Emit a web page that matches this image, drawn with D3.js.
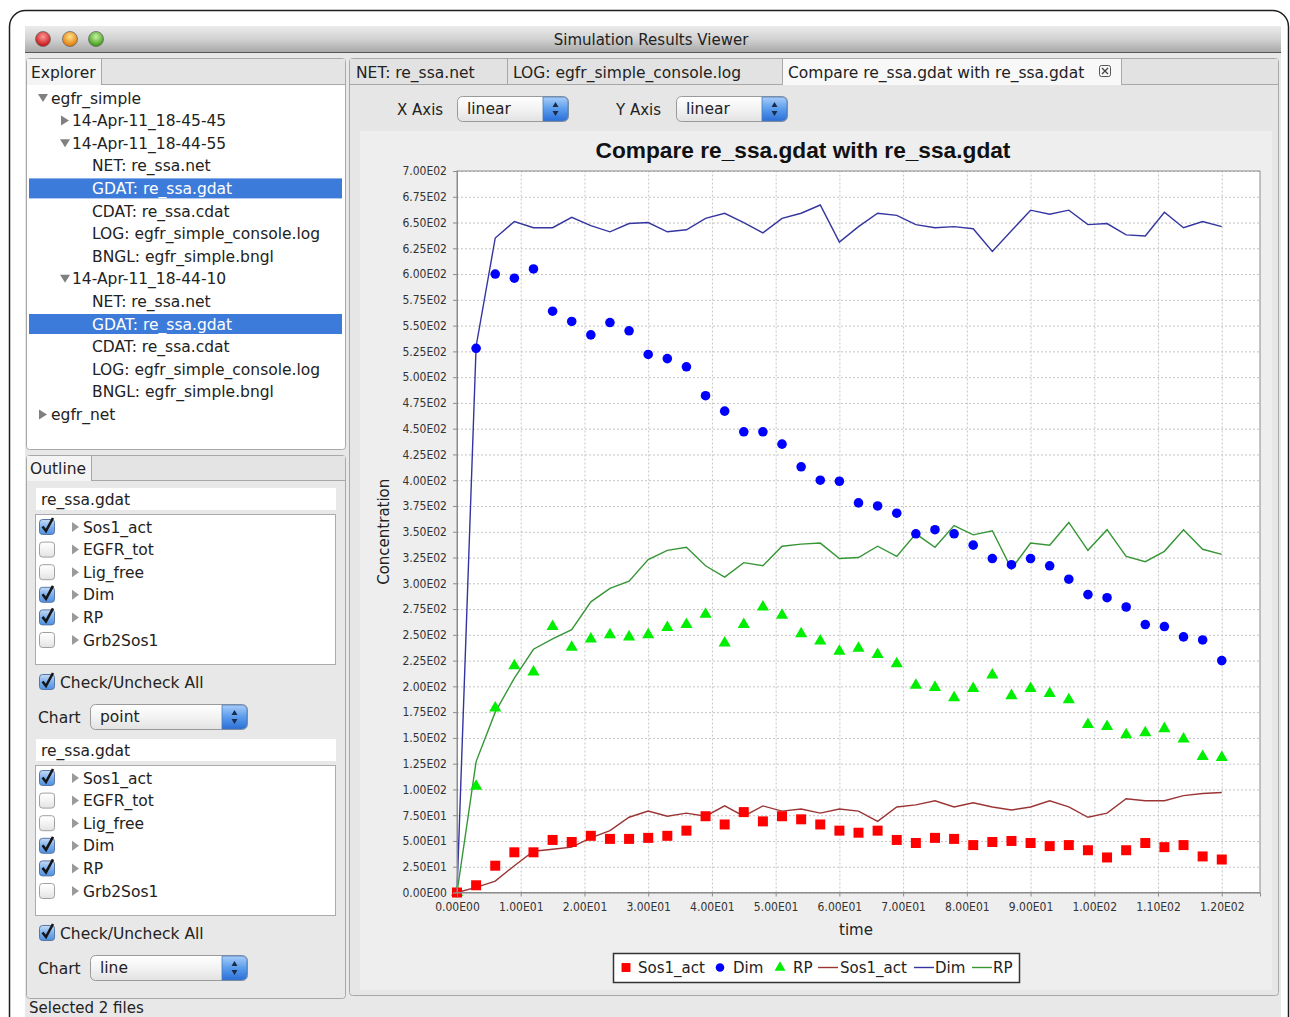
<!DOCTYPE html>
<html>
<head>
<meta charset="UTF-8">
<title>Simulation Results Viewer</title>
<script src="https://d3js.org/d3.v7.min.js"></script>
<style>
  body { margin: 0; background: #fff; }
  svg { display: block; font-family: "DejaVu Sans", sans-serif; }
  .tick-label { font-family: "DejaVu Sans Condensed", "DejaVu Sans", sans-serif; font-size: 12px; fill: #333; }
</style>
</head>
<body>
<div id="app"></div>
<script>
// ---- chart data ----
const time = [0, 3, 6, 9, 12, 15, 18, 21, 24, 27, 30, 33, 36, 39, 42, 45, 48, 51, 54, 57, 60,
              63, 66, 69, 72, 75, 78, 81, 84, 87, 90, 93, 96, 99, 102, 105, 108, 111, 114, 117, 120];

// first file, drawn as points
const sosPoint = [0, 7, 26, 39, 39, 51, 49, 55, 52, 52, 53, 55, 60, 74, 66, 78, 69, 74, 71, 66, 60,
                  58, 60, 51, 48, 53, 52, 46, 49, 50, 48, 45, 46, 41, 34, 41, 48, 44, 46, 35, 32];
const dimPoint = [0, 528, 600, 596, 605, 564, 554, 541, 553, 545, 522, 518, 510, 482, 467, 447, 447, 435, 413, 400, 399,
                  378, 375, 368, 348, 352, 348, 337, 324, 318, 324, 317, 304, 289, 286, 277, 260, 258, 248, 245, 225];
const rpPoint  = [0, 103, 179, 220, 214, 258, 238, 246, 250, 248, 250, 257, 260, 270, 242, 260, 277, 269, 251, 244, 234,
                  237, 231, 222, 201, 199, 189, 198, 211, 191, 198, 193, 187, 163, 161, 153, 155, 159, 149, 132, 131];

// second file, drawn as lines
const sosLine = [0, 5, 11, 26, 40, 42, 44, 53, 60, 73, 79, 74, 77, 74, 84, 74, 84, 79, 81, 77, 81,
                 79, 69, 83, 85, 89, 83, 87, 83, 80, 83, 89, 83, 73, 77, 91, 89, 89, 94, 96, 97];
const dimLine = [0, 530, 635, 651, 645, 645, 655, 647, 641, 649, 650, 641, 643, 654, 659, 650, 640, 654, 659, 667, 631,
                 646, 659, 657, 648, 645, 646, 644, 622, 642, 662, 658, 662, 648, 649, 638, 637, 660, 645, 651, 646];
const rpLine  = [0, 127, 175, 208, 236, 246, 255, 282, 295, 302, 323, 332, 335, 317, 306, 320, 317, 336, 338, 339, 324,
                 325, 336, 326, 348, 335, 356, 347, 351, 314, 339, 337, 359, 332, 352, 326, 321, 331, 352, 333, 328];

const xTicks = [0, 10, 20, 30, 40, 50, 60, 70, 80, 90, 100, 110, 120];
const yTicks = [0, 25, 50, 75, 100, 125, 150, 175, 200, 225, 250, 275, 300, 325, 350,
                375, 400, 425, 450, 475, 500, 525, 550, 575, 600, 625, 650, 675, 700];

// ---- UI texts ----
const treeItems = [
  {text: 'egfr_simple', level: 0, arrow: 'down'},
  {text: '14-Apr-11_18-45-45', level: 1, arrow: 'right'},
  {text: '14-Apr-11_18-44-55', level: 1, arrow: 'down'},
  {text: 'NET: re_ssa.net', level: 2},
  {text: 'GDAT: re_ssa.gdat', level: 2, selected: true},
  {text: 'CDAT: re_ssa.cdat', level: 2},
  {text: 'LOG: egfr_simple_console.log', level: 2},
  {text: 'BNGL: egfr_simple.bngl', level: 2},
  {text: '14-Apr-11_18-44-10', level: 1, arrow: 'down'},
  {text: 'NET: re_ssa.net', level: 2},
  {text: 'GDAT: re_ssa.gdat', level: 2, selected: true},
  {text: 'CDAT: re_ssa.cdat', level: 2},
  {text: 'LOG: egfr_simple_console.log', level: 2},
  {text: 'BNGL: egfr_simple.bngl', level: 2},
  {text: 'egfr_net', level: 0, arrow: 'right'}
];
const observables = ['Sos1_act', 'EGFR_tot', 'Lig_free', 'Dim', 'RP', 'Grb2Sos1'];
const observed = [true, false, false, true, true, false];
const chartTypes = ['point', 'line'];
const tabs = ['NET: re_ssa.net', 'LOG: egfr_simple_console.log', 'Compare re_ssa.gdat with re_ssa.gdat'];

const UI = '#222';
const svg = d3.select('#app').append('svg').attr('width', 1290).attr('height', 1017);
const defs = svg.append('defs');

function linGrad(id, stops) {
  const g = defs.append('linearGradient').attr('id', id).attr('x1', 0).attr('y1', 0).attr('x2', 0).attr('y2', 1);
  stops.forEach((c, i) => g.append('stop').attr('offset', i / (stops.length - 1)).attr('stop-color', c));
}
linGrad('gTitle', ['#ebebeb', '#d2d2d2', '#a8a8a8']);
linGrad('gCheck', ['#c6dcf6', '#7fb0ec', '#4f8fe0']);
linGrad('gCombo', ['#ffffff', '#f3f3f3', '#e2e2e2']);
linGrad('gStep', ['#a9cdf8', '#5a9cec', '#2b6fd8']);
function radGrad(id, light, dark) {
  const g = defs.append('radialGradient').attr('id', id).attr('cx', 0.5).attr('cy', 0.35).attr('r', 0.6);
  g.append('stop').attr('offset', 0).attr('stop-color', light);
  g.append('stop').attr('offset', 1).attr('stop-color', dark);
}
radGrad('gRed', '#ff9a9a', '#c81616');
radGrad('gYel', '#ffe28a', '#e07c0c');
radGrad('gGrn', '#c8f2a0', '#3f9c18');

// ---- window frame ----
svg.append('rect').attr('x', 9.5).attr('y', 10.5).attr('width', 1279).attr('height', 1050).attr('rx', 16)
  .attr('fill', '#fff').attr('stroke', '#1e1e1e').attr('stroke-width', 1.5);
svg.append('rect').attr('x', 25).attr('y', 26).attr('width', 1256).attr('height', 1000).attr('fill', '#e8e8e8');
svg.append('rect').attr('x', 25).attr('y', 26).attr('width', 1256).attr('height', 26).attr('fill', 'url(#gTitle)');
svg.append('line').attr('x1', 25).attr('x2', 1281).attr('y1', 52.5).attr('y2', 52.5).attr('stroke', '#555');
[['gRed', 43], ['gYel', 70], ['gGrn', 96]].forEach(([g, cx]) => {
  svg.append('circle').attr('cx', cx).attr('cy', 39).attr('r', 7.5).attr('fill', `url(#${g})`)
    .attr('stroke', '#6a6a6a').attr('stroke-width', 0.8);
});
svg.append('text').attr('x', 651).attr('y', 44.5).attr('text-anchor', 'middle')
  .style('font-size', '15px').attr('fill', UI).text('Simulation Results Viewer');

// ---- explorer ----
const ex = svg.append('g');
ex.append('rect').attr('x', 26.5).attr('y', 58.5).attr('width', 319).attr('height', 391).attr('rx', 3)
  .attr('fill', '#fff').attr('stroke', '#a8a8a8');
ex.append('rect').attr('x', 27).attr('y', 59).attr('width', 318).attr('height', 25).attr('fill', '#e4e4e4');
ex.append('line').attr('x1', 101).attr('x2', 345).attr('y1', 84.5).attr('y2', 84.5).attr('stroke', '#a8a8a8');
ex.append('rect').attr('x', 27).attr('y', 59).attr('width', 74).attr('height', 26).attr('fill', '#f4f4f4');
ex.append('line').attr('x1', 101.5).attr('x2', 101.5).attr('y1', 59).attr('y2', 84).attr('stroke', '#a8a8a8');
ex.append('text').attr('x', 31).attr('y', 77.5).style('font-size', '15.5px').attr('fill', UI).text('Explorer');

const rowY = i => 98 + i * 22.6;
const arrowX = [38, 60, 0], textX = [51, 72, 92];
treeItems.forEach((d, i) => {
  const cy = rowY(i);
  if (d.selected) ex.append('rect').attr('x', 29).attr('y', cy - 10).attr('width', 313).attr('height', 20).attr('fill', '#3c7bd9');
  if (d.arrow) {
    const ax = arrowX[d.level];
    const p = d.arrow === 'down'
      ? `M${ax},${cy - 4}L${ax + 10},${cy - 4}L${ax + 5},${cy + 4}Z`
      : `M${ax + 1},${cy - 5}L${ax + 9},${cy}L${ax + 1},${cy + 5}Z`;
    ex.append('path').attr('d', p).attr('fill', '#808080');
  }
  ex.append('text').attr('x', textX[d.level]).attr('y', cy + 5.5).style('font-size', '15.5px')
    .attr('fill', d.selected ? '#fff' : UI).text(d.text);
});

// ---- outline ----
const ol = svg.append('g');
ol.append('rect').attr('x', 26.5).attr('y', 455.5).attr('width', 319).attr('height', 543).attr('rx', 3)
  .attr('fill', '#e8e8e8').attr('stroke', '#a8a8a8');
ol.append('rect').attr('x', 27).attr('y', 456).attr('width', 318).attr('height', 24).attr('fill', '#e4e4e4');
ol.append('line').attr('x1', 91).attr('x2', 345).attr('y1', 480.5).attr('y2', 480.5).attr('stroke', '#a8a8a8');
ol.append('rect').attr('x', 27).attr('y', 456).attr('width', 64).attr('height', 25).attr('fill', '#f4f4f4');
ol.append('line').attr('x1', 91.5).attr('x2', 91.5).attr('y1', 456).attr('y2', 480).attr('stroke', '#a8a8a8');
ol.append('text').attr('x', 30).attr('y', 473.5).style('font-size', '15.5px').attr('fill', UI).text('Outline');

function checkbox(g, bx, by, on) {
  g.append('rect').attr('x', bx + 0.5).attr('y', by + 0.5).attr('width', 15).attr('height', 15).attr('rx', 3)
    .attr('fill', on ? 'url(#gCheck)' : 'url(#gCombo)').attr('stroke', on ? '#5577a8' : '#a0a0a0');
  if (on) g.append('path').attr('d', `M${bx + 3.5},${by + 7.5}L${bx + 7},${by + 12}L${bx + 14},${by - 1}`)
    .attr('fill', 'none').attr('stroke', '#161616').attr('stroke-width', 2.6);
}
function combo(g, x0, y0, w, label) {
  g.append('rect').attr('x', x0 + 0.5).attr('y', y0 + 0.5).attr('width', w).attr('height', 25).attr('rx', 5)
    .attr('fill', 'url(#gCombo)').attr('stroke', '#9a9a9a');
  g.append('path').attr('d', `M${x0 + w - 25},${y0 + 1}h20a5,5 0 0 1 5,5v14a5,5 0 0 1 -5,5h-20z`)
    .attr('fill', 'url(#gStep)').attr('stroke', '#4a78b8').attr('stroke-width', 0.8);
  const sx = x0 + w - 12.5, sy = y0 + 13;
  g.append('path').attr('d', `M${sx - 3},${sy - 2}L${sx + 3},${sy - 2}L${sx},${sy - 7}Z M${sx - 3},${sy + 2}L${sx + 3},${sy + 2}L${sx},${sy + 7}Z`)
    .attr('fill', '#1c2c48');
  g.append('text').attr('x', x0 + 10).attr('y', y0 + 18).style('font-size', '15.5px').attr('fill', UI).text(label);
}

chartTypes.forEach((type, k) => {
  const o = k * 251;
  ol.append('rect').attr('x', 36).attr('y', 488 + o).attr('width', 300).attr('height', 22).attr('fill', '#fff');
  ol.append('text').attr('x', 41).attr('y', 504.5 + o).style('font-size', '15.5px').attr('fill', UI).text('re_ssa.gdat');
  ol.append('rect').attr('x', 35.5).attr('y', 514.5 + o).attr('width', 300).attr('height', 150)
    .attr('fill', '#fff').attr('stroke', '#ababab');
  observables.forEach((name, i) => {
    const cy = 527 + o + i * 22.6;
    checkbox(ol, 39, cy - 8, observed[i]);
    ol.append('path').attr('d', `M${72},${cy - 5}L${79},${cy}L${72},${cy + 5}Z`).attr('fill', '#9a9a9a');
    ol.append('text').attr('x', 83).attr('y', cy + 5.5).style('font-size', '15.5px').attr('fill', UI).text(name);
  });
  checkbox(ol, 39, 674 + o, true);
  ol.append('text').attr('x', 60).attr('y', 687.5 + o).style('font-size', '15.5px').attr('fill', UI).text('Check/Uncheck All');
  ol.append('text').attr('x', 38).attr('y', 722.5 + o).style('font-size', '15.5px').attr('fill', UI).text('Chart');
  combo(ol, 90, 704 + o, 157, type);
});
svg.append('text').attr('x', 29).attr('y', 1013).style('font-size', '15px').attr('fill', UI).text('Selected 2 files');

// ---- right panel, tabs ----
const rp = svg.append('g');
rp.append('rect').attr('x', 349.5).attr('y', 58.5).attr('width', 929).attr('height', 937).attr('rx', 3)
  .attr('fill', '#e6e6e6').attr('stroke', '#a8a8a8');
rp.append('rect').attr('x', 350).attr('y', 59).attr('width', 928).attr('height', 25).attr('fill', '#e2e2e2');
rp.append('line').attr('x1', 350).attr('x2', 1278).attr('y1', 84.5).attr('y2', 84.5).attr('stroke', '#a8a8a8');
const tabX = [350, 507, 782, 1121];
tabs.forEach((t, i) => {
  const active = i === tabs.length - 1;
  if (active) rp.append('rect').attr('x', tabX[i] + 1).attr('y', 59).attr('width', tabX[i + 1] - tabX[i] - 1).attr('height', 26).attr('fill', '#f8f8f8');
  rp.append('line').attr('x1', tabX[i + 1] + 0.5).attr('x2', tabX[i + 1] + 0.5).attr('y1', 59).attr('y2', 84).attr('stroke', '#a8a8a8');
  rp.append('text').attr('x', tabX[i] + 6).attr('y', 77.5).style('font-size', '15.5px').attr('fill', UI).text(t);
});
// close icon on active tab
rp.append('rect').attr('x', 1099.5).attr('y', 65.5).attr('width', 11).attr('height', 11).attr('rx', 2)
  .attr('fill', 'none').attr('stroke', '#555').attr('stroke-width', 1);
rp.append('path').attr('d', 'M1102,68L1108,74M1108,68L1102,74')
  .attr('fill', 'none').attr('stroke', '#444').attr('stroke-width', 1.3);

rp.append('text').attr('x', 397).attr('y', 114.5).style('font-size', '15px').attr('fill', UI).text('X Axis');
combo(rp, 457, 96, 111, 'linear');
rp.append('text').attr('x', 616).attr('y', 114.5).style('font-size', '15px').attr('fill', UI).text('Y Axis');
combo(rp, 676, 96, 111, 'linear');

// ---- chart ----
const chart = svg.append('g');
chart.append('rect').attr('x', 360).attr('y', 131).attr('width', 912).attr('height', 859).attr('fill', '#eeeeee');
chart.append('text').attr('x', 803).attr('y', 158).attr('text-anchor', 'middle')
  .style('font-family', '"Liberation Sans", Arial, sans-serif').style('font-weight', 'bold').style('font-size', '22.7px')
  .attr('fill', '#111').text('Compare re_ssa.gdat with re_ssa.gdat');

const plot = {left: 457, right: 1260, top: 171, bottom: 892.5};
const x = d3.scaleLinear().domain([0, 126]).range([plot.left, plot.right]);
const y = d3.scaleLinear().domain([0, 700]).range([plot.bottom, plot.top]);

function sci(v) {
  if (v === 0) return '0.00E00';
  const e = Math.floor(Math.log10(v));
  return (v / Math.pow(10, e)).toFixed(2) + 'E' + String(e).padStart(2, '0');
}

chart.append('rect').attr('x', plot.left).attr('y', plot.top).attr('width', plot.right - plot.left)
  .attr('height', plot.bottom - plot.top).attr('fill', '#fff');

const gx = chart.append('g').attr('transform', `translate(0,${plot.bottom})`)
  .call(d3.axisBottom(x).tickValues(xTicks).tickSize(-(plot.bottom - plot.top)).tickFormat(''));
const gy = chart.append('g').attr('transform', `translate(${plot.left},0)`)
  .call(d3.axisLeft(y).tickValues(yTicks).tickSize(-(plot.right - plot.left)).tickFormat(''));
[gx, gy].forEach(g => {
  g.select('.domain').remove();
  g.selectAll('line').attr('stroke', '#c4c4c4').attr('stroke-dasharray', '2,2');
});

const line = d3.line().x((d, i) => x(time[i])).y(d => y(d));
const lineSeries = [
  {name: 'Sos1_act', values: sosLine, color: '#9b3535'},
  {name: 'Dim', values: dimLine, color: '#3535a0'},
  {name: 'RP', values: rpLine, color: '#369636'}
];
const pointSeries = [
  {name: 'Sos1_act', values: sosPoint, color: '#ff0000', symbol: d3.symbolSquare, size: 100},
  {name: 'Dim', values: dimPoint, color: '#0000ff', symbol: d3.symbolCircle, size: 72},
  {name: 'RP', values: rpPoint, color: '#00ee00', symbol: d3.symbolTriangle, size: 64}
];

const marks = chart.append('g');
lineSeries.slice().reverse().forEach(s => {
  marks.append('path').datum(s.values).attr('d', line).attr('fill', 'none')
    .attr('stroke', s.color).attr('stroke-width', 1.4);
});
pointSeries.slice().reverse().forEach(s => {
  marks.append('g').selectAll('path').data(s.values).join('path')
    .attr('transform', (d, i) => `translate(${x(time[i])},${y(d)})`)
    .attr('d', d3.symbol(s.symbol, s.size)).attr('fill', s.color);
});

chart.append('rect').attr('x', plot.left).attr('y', plot.top).attr('width', plot.right - plot.left)
  .attr('height', plot.bottom - plot.top).attr('fill', 'none').attr('stroke', '#8c8c8c');

const ax = chart.append('g').attr('transform', `translate(0,${plot.bottom})`)
  .call(d3.axisBottom(x).tickValues(xTicks).tickSize(4).tickPadding(6).tickFormat(sci));
const ay = chart.append('g').attr('transform', `translate(${plot.left},0)`)
  .call(d3.axisLeft(y).tickValues(yTicks).tickSize(4).tickPadding(6).tickFormat(sci));
[ax, ay].forEach(g => {
  g.select('.domain').attr('stroke', '#8c8c8c');
  g.selectAll('.tick line').attr('stroke', '#8c8c8c');
  g.selectAll('.tick text').attr('class', 'tick-label').attr('fill', null).style('font-family', null).style('font-size', null);
});
ax.attr('font-family', null).attr('font-size', null);
ay.attr('font-family', null).attr('font-size', null);

chart.append('text').attr('transform', `translate(389,${(plot.top + plot.bottom) / 2}) rotate(-90)`)
  .attr('text-anchor', 'middle').style('font-size', '15px').attr('fill', UI).text('Concentration');
chart.append('text').attr('x', 856).attr('y', 935).attr('text-anchor', 'middle')
  .style('font-size', '15px').attr('fill', UI).text('time');

// ---- legend ----
const lg = chart.append('g');
lg.append('rect').attr('x', 613.5).attr('y', 953.5).attr('width', 406).attr('height', 29)
  .attr('fill', '#fff').attr('stroke', '#333').attr('stroke-width', 1.5);
const legendY = 967.5;
const symX = [626, 720, 780], symTextX = [638, 733, 793];
pointSeries.forEach((s, i) => {
  lg.append('path').attr('transform', `translate(${symX[i]},${legendY})`)
    .attr('d', d3.symbol(s.symbol, s.size * 0.8)).attr('fill', s.color);
  lg.append('text').attr('x', symTextX[i]).attr('y', legendY + 5.5).style('font-size', '15px').attr('fill', UI).text(s.name);
});
const lineX = [818, 914, 972], lineTextX = [840, 935, 993];
lineSeries.forEach((s, i) => {
  lg.append('line').attr('x1', lineX[i]).attr('x2', lineX[i] + 20).attr('y1', legendY).attr('y2', legendY)
    .attr('stroke', s.color).attr('stroke-width', 1.4);
  lg.append('text').attr('x', lineTextX[i]).attr('y', legendY + 5.5).style('font-size', '15px').attr('fill', UI).text(s.name);
});
</script>
</body>
</html>
